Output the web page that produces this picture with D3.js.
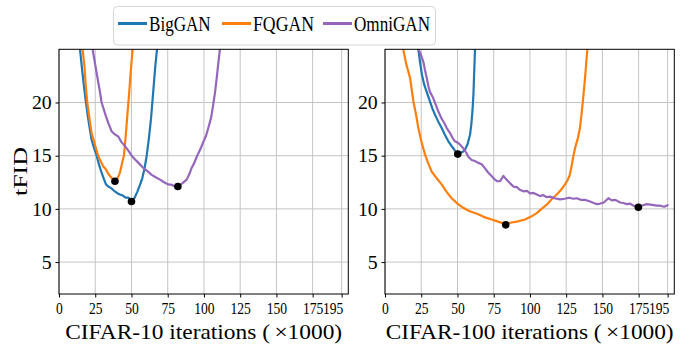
<!DOCTYPE html>
<html><head><meta charset="utf-8">
<script src="https://cdn.jsdelivr.net/npm/d3@7/dist/d3.min.js"></script>
<style>body{margin:0;background:#fff}svg{display:block}</style>
</head><body><svg id="chart" width="684" height="344"></svg>
<script>
// ---------------- data ----------------
const seriesNames = ["BigGAN", "FQGAN", "OmniGAN"];
const seriesColors = ["#1f77b4", "#ff7f0e", "#9467bd"];
const xTickValues = [0, 25, 50, 75, 100, 125, 150, 175, 195];
const yTickValues = [5, 10, 15, 20];
const panelLabels = ["CIFAR-10", "CIFAR-100"];

// CIFAR-10 panel
const c10BigIter = [12, 14.5, 16, 17.5, 18.6, 20, 21.5, 22.5, 24, 26, 27.5, 29.4, 31, 32.4, 34, 36, 38, 40, 42, 44, 46, 48, 50, 52, 54, 56, 57.5, 59, 60.5, 62, 63.5, 65, 66.5, 68, 70];
const c10BigFid  = [28, 25, 23, 21.2, 20, 18.6, 17.3, 16.5, 15.8, 15.0, 14.2, 13.4, 12.8, 12.3, 12.1, 11.95, 11.7, 11.5, 11.35, 11.25, 11.05, 11.05, 10.7, 11.0, 11.6, 12.3, 12.9, 13.8, 15.0, 16.6, 18.5, 21, 23.5, 25.5, 29];
const c10FqIter = [14, 16.3, 17.5, 18.5, 19.5, 21, 22.5, 24, 25.5, 27, 29, 30.5, 32.4, 34, 36.3, 38.6, 40.5, 42, 43.5, 44.8, 46, 47.1, 48.3, 49.4, 50.8, 52];
const c10FqFid  = [28, 25, 23.5, 21.5, 20, 18.5, 17.1, 16.4, 15.7, 15.0, 14.4, 14.0, 13.7, 13.3, 12.9, 12.6, 12.9, 13.4, 14.3, 15.0, 16.8, 18.7, 20.7, 22.75, 25, 28];
const c10OmniIter = [21.5, 23.2, 26, 28, 29.4, 31, 32.4, 34.5, 36.3, 38.5, 40.9, 43, 45.5, 48, 50.1, 52.5, 55, 58.2, 61, 63.9, 67, 69.7, 72.5, 75.4, 78, 80, 82, 85, 88.1, 90, 91.5, 93.3, 95, 97.5, 99.6, 101.5, 103, 105, 106.4, 107.7, 108.8, 110, 111, 112.5];
const c10OmniFid  = [28, 25, 22.75, 21.2, 20, 19.3, 18.7, 17.9, 17.3, 17.0, 16.8, 16.3, 15.9, 15.45, 15.0, 14.65, 14.3, 13.85, 13.55, 13.2, 12.95, 12.75, 12.5, 12.3, 12.25, 12.1, 12.1, 12.4, 12.75, 13.3, 13.85, 14.3, 14.9, 15.6, 16.3, 16.9, 17.6, 18.6, 19.8, 21, 22.3, 23.8, 25, 28];
const c10BestIter = [50, 38.6, 82];
const c10BestFid  = [10.7, 12.6, 12.1];

// CIFAR-100 panel
const c100BigIter = [21.5, 23, 24.2, 25.5, 27.1, 29, 31, 32.8, 34.5, 36.8, 39.1, 41.4, 43.7, 45.5, 47.1, 48.6, 50.2, 52, 53.5, 55.2, 57, 58.7, 59.6, 60.3, 61, 61.4, 62.1, 62.8];
const c100BigFid  = [28, 25, 23.8, 22.6, 21.65, 20.9, 20.1, 19.4, 18.85, 18.2, 17.6, 16.95, 16.35, 16.0, 15.7, 15.4, 15.2, 15.25, 15.35, 15.55, 16.1, 17.0, 18.0, 19.15, 20.7, 22.3, 25, 28];
const c100FqIter = [11.5, 12.6, 14.5, 17.3, 19.6, 21.5, 23, 25, 27.6, 29.8, 32.2, 35.5, 39.1, 42.5, 46, 50, 54, 58, 64.4, 69, 73.6, 78, 83.3, 86.3, 91, 96.6, 100.5, 104.7, 108, 111.6, 115, 118.5, 121.5, 124.2, 126, 127.5, 128.7, 130, 131.5, 133, 134.5, 135.8, 137, 138, 139.6, 140.5];
const c100FqFid  = [27.5, 25, 23.7, 22.3, 20.1, 18.8, 17.6, 16.4, 15.1, 14.3, 13.5, 12.9, 12.3, 11.6, 11.0, 10.5, 10.1, 9.8, 9.5, 9.2, 9.0, 8.8, 8.55, 8.7, 8.8, 9.0, 9.25, 9.6, 10.0, 10.4, 10.9, 11.35, 11.8, 12.3, 12.7, 13.2, 14.0, 15.0, 15.9, 16.6, 17.6, 19.15, 20.8, 22.3, 25, 28];
const c100OmniIter = [22, 23, 24.5, 26.5, 27.5, 28.8, 30, 31, 33, 35, 36.8, 39, 40.8, 42.6, 45, 46.5, 48.3, 50.5, 52, 54, 56, 57.5, 59.8, 62, 64, 66.7, 68.5, 71.3, 73.5, 75.9, 77.5, 79.4, 81.7, 83.5, 86.3, 88.6, 91, 93, 95.5, 98, 100, 102.5, 104.7, 107, 109, 111.6, 114, 117, 120.8, 124, 127, 130, 132.3, 135, 138, 141.5, 144, 146.1, 148.5, 151, 154.1, 156.5, 159, 162.2, 164.5, 166.8, 169, 171.5, 173, 174.8, 177, 180.6, 183, 185.5, 187.5, 190, 192.5, 195];
const c100OmniFid  = [27, 25, 24.6, 23.8, 23.1, 22.3, 21.5, 21.0, 20.5, 19.8, 19.15, 18.5, 18.1, 17.6, 17.1, 16.7, 16.35, 16.2, 16.0, 15.7, 15.3, 14.9, 14.6, 14.5, 14.35, 14.2, 13.9, 13.4, 13.1, 12.75, 12.6, 12.6, 13.1, 12.8, 12.4, 12.1, 12.05, 11.8, 11.65, 11.7, 11.45, 11.5, 11.35, 11.2, 11.3, 11.1, 11.15, 11.0, 10.9, 10.95, 11.05, 10.95, 11.0, 10.85, 10.85, 10.7, 10.55, 10.45, 10.5, 10.6, 11.0, 10.8, 10.85, 10.6, 10.55, 10.45, 10.5, 10.3, 10.25, 10.15, 10.3, 10.45, 10.4, 10.35, 10.3, 10.3, 10.2, 10.35];
const c100BestIter = [50.2, 83.3, 174.8];
const c100BestFid  = [15.15, 8.5, 10.15];

const panels = [
  {label: panelLabels[0], iters: [c10BigIter, c10FqIter, c10OmniIter], fids: [c10BigFid, c10FqFid, c10OmniFid], bestIter: c10BestIter, bestFid: c10BestFid},
  {label: panelLabels[1], iters: [c100BigIter, c100FqIter, c100OmniIter], fids: [c100BigFid, c100FqFid, c100OmniFid], bestIter: c100BestIter, bestFid: c100BestFid}
];

// ---------------- layout ----------------
const FONT = "'Liberation Serif','Times New Roman',Times,serif";
const svg = d3.select("#chart");
const panelLeft = [59, 385];
const panelW = 289.3, panelTop = 49.3, panelBottom = 294;

const y = d3.scaleLinear().domain([2, 25]).range([panelBottom, panelTop]);

panels.forEach((p, pi) => {
  const x0 = panelLeft[pi];
  const x = d3.scaleLinear().domain([0, 199.6]).range([x0, x0 + panelW]);
  const g = svg.append("g");

  // grid
  g.append("g").selectAll("line").data(xTickValues).join("line")
    .attr("x1", d => x(d)).attr("x2", d => x(d)).attr("y1", panelTop).attr("y2", panelBottom)
    .attr("stroke", "#c4c4c4").attr("stroke-width", 1);
  g.append("g").selectAll("line").data(yTickValues).join("line")
    .attr("x1", x0).attr("x2", x0 + panelW).attr("y1", d => y(d)).attr("y2", d => y(d))
    .attr("stroke", "#c4c4c4").attr("stroke-width", 1);

  // clip
  const cid = "clip" + pi;
  svg.append("clipPath").attr("id", cid).append("rect")
    .attr("x", x0).attr("y", panelTop).attr("width", panelW).attr("height", panelBottom - panelTop);

  const line = d3.line().x(d => x(d[0])).y(d => y(d[1]));
  const lg = g.append("g").attr("clip-path", `url(#${cid})`);
  p.iters.forEach((it, si) => {
    const pts = it.map((v, i) => [v, p.fids[si][i]]);
    lg.append("path").datum(pts).attr("d", line)
      .attr("fill", "none").attr("stroke", seriesColors[si])
      .attr("stroke-width", 2.2).attr("stroke-linejoin", "round").attr("stroke-linecap", "round");
  });
  // best points
  g.append("g").selectAll("circle").data(p.bestIter.map((v, i) => [v, p.bestFid[i]])).join("circle")
    .attr("cx", d => x(d[0])).attr("cy", d => y(d[1])).attr("r", 3.8).attr("fill", "#000");

  // frame
  g.append("rect").attr("x", x0).attr("y", panelTop).attr("width", panelW).attr("height", panelBottom - panelTop)
    .attr("fill", "none").attr("stroke", "#000").attr("stroke-width", 1);

  // x axis
  const xa = g.append("g").attr("transform", `translate(0,${panelBottom})`)
    .call(d3.axisBottom(x).tickValues(xTickValues).tickSize(3.5).tickFormat(d3.format("d")));
  xa.select(".domain").remove();
  xa.selectAll("line").attr("stroke", "#000");
  xa.selectAll("text").attr("font-family", FONT).attr("font-size", 17).attr("fill", "#000")
    .attr("y", 7.5).attr("dy", "0.71em")
    .attr("transform", d => (d === 195 ? "translate(-9,0) " : "") + "scale(0.8,1)");

  // y axis
  const ya = g.append("g").attr("transform", `translate(${x0},0)`)
    .call(d3.axisLeft(y).tickValues(yTickValues).tickSize(3.5));
  ya.select(".domain").remove();
  ya.selectAll("line").attr("stroke", "#000");
  ya.selectAll("text").attr("font-family", FONT).attr("font-size", 18).attr("fill", "#000")
    .attr("x", 0).attr("dy", "0.34em")
    .attr("transform", "translate(-7.3,0) scale(1.1,1)");

  // x label
  const xl = g.append("text").attr("x", x0 + panelW / 2).attr("y", 339)
    .attr("text-anchor", "middle").attr("font-family", FONT).attr("font-size", 21).attr("fill", "#000")
    .attr("textLength", pi === 0 ? 277 : 288).attr("lengthAdjust", "spacingAndGlyphs");
  xl.append("tspan").text(p.label + " iterations (");
  xl.append("tspan").attr("dx", 4).text("×1000)");
});

// y label
svg.append("text").attr("transform", "translate(27,171.5) rotate(-90)")
  .attr("text-anchor", "middle").attr("font-family", FONT).attr("font-size", 18).attr("fill", "#000")
  .attr("textLength", 49).attr("lengthAdjust", "spacingAndGlyphs").text("tFID");

// legend
const leg = svg.append("g");
leg.append("rect").attr("x", 113.5).attr("y", 6.5).attr("width", 322).attr("height", 38.5).attr("rx", 4)
  .attr("fill", "#fff").attr("fill-opacity", 0.8).attr("stroke", "#d6d6d6").attr("stroke-width", 1);
const legLineX = [118, 222, 323];
const legTextLen = [61.7, 61, 76];
seriesNames.forEach((n, i) => {
  leg.append("line").attr("x1", legLineX[i]).attr("x2", legLineX[i] + 29).attr("y1", 23.5).attr("y2", 23.5)
    .attr("stroke", seriesColors[i]).attr("stroke-width", 3);
  leg.append("text").attr("x", legLineX[i] + 31).attr("y", 31).attr("font-family", FONT).attr("font-size", 21.5)
    .attr("fill", "#000").attr("textLength", legTextLen[i]).attr("lengthAdjust", "spacingAndGlyphs").text(n);
});
</script></body></html>
